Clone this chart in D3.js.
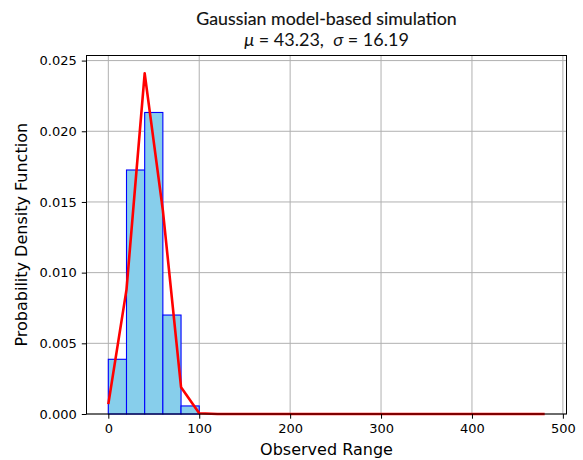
<!DOCTYPE html>
<html>
<head>
<meta charset="utf-8">
<script src="https://cdn.jsdelivr.net/npm/d3@7"></script>
<style>
  body { margin: 0; background: #fff; }
  .tick text { font-family: "DejaVu Sans", sans-serif; font-size: 13px; fill: #000; }
  .tick line { stroke: #000; }
  .grid line { stroke: #b0b0b0; stroke-width: 1; }
</style>
</head>
<body>
<script>
// histogram bins (left edges) and densities
const binEdges = [0, 20, 40, 60, 80, 100, 120, 140, 160, 180, 200, 220, 240, 260, 280,
  300, 320, 340, 360, 380, 400, 420, 440, 460, 480];
const binDensity = [0.00387, 0.01726, 0.02133, 0.00700, 0.00057, 0, 0, 0, 0, 0, 0, 0,
  0, 0, 0, 0, 0, 0, 0, 0, 0, 0, 0, 0];
// fitted gaussian, read at the bin edges
const pdfValues = [0.0007, 0.0088, 0.0241, 0.0144, 0.0019, 0.00005, 0, 0, 0, 0, 0, 0,
  0, 0, 0, 0, 0, 0, 0, 0, 0, 0, 0, 0, 0];
const xTicks = [0, 100, 200, 300, 400, 500];
const yTicks = [0, 0.005, 0.010, 0.015, 0.020, 0.025];

const width = 583, height = 460;
const margin = { top: 55.5, right: 16.5, bottom: 46, left: 86.5 };
const w = width - margin.left - margin.right;
const h = height - margin.top - margin.bottom;

const x = d3.scaleLinear().domain([-24, 504]).range([0, w]);
const y = d3.scaleLinear().domain([0, 0.02536]).range([h, 0]);

const svg = d3.select('body').append('svg')
  .attr('width', width)
  .attr('height', height);

const g = svg.append('g')
  .attr('transform', `translate(${margin.left}, ${margin.top})`);

// grid
g.append('g').attr('class', 'grid')
  .selectAll('line').data(xTicks).enter().append('line')
  .attr('x1', d => x(d)).attr('x2', d => x(d))
  .attr('y1', 0).attr('y2', h);
g.append('g').attr('class', 'grid')
  .selectAll('line').data(yTicks).enter().append('line')
  .attr('x1', 0).attr('x2', w)
  .attr('y1', d => y(d)).attr('y2', d => y(d));

// bars
g.selectAll('rect.bar')
  .data(binDensity)
  .enter().append('rect')
  .attr('class', 'bar')
  .attr('x', (d, i) => x(binEdges[i]))
  .attr('width', (d, i) => x(binEdges[i + 1]) - x(binEdges[i]))
  .attr('y', d => y(d))
  .attr('height', d => h - y(d))
  .attr('fill', '#87ceeb')
  .attr('stroke', '#0000ff')
  .attr('stroke-width', 1.1);

// pdf line
const line = d3.line()
  .x((d, i) => x(binEdges[i]))
  .y(d => y(d));

g.append('path')
  .datum(pdfValues)
  .attr('d', line)
  .attr('fill', 'none')
  .attr('stroke', '#ff0000')
  .attr('stroke-width', 2.6)
  .attr('stroke-linejoin', 'round');

// axes
const xAxis = d3.axisBottom(x).tickValues(xTicks).tickSize(4.7).tickPadding(5).tickFormat(d3.format('d'));
const yAxis = d3.axisLeft(y).tickValues(yTicks).tickSize(4.7).tickPadding(5).tickFormat(d3.format('.3f'));

g.append('g')
  .attr('transform', `translate(0, ${h})`)
  .call(xAxis)
  .call(s => s.select('.domain').remove());

g.append('g')
  .call(yAxis)
  .call(s => s.select('.domain').remove());

// frame
g.append('rect')
  .attr('width', w).attr('height', h)
  .attr('fill', 'none')
  .attr('stroke', '#000')
  .attr('stroke-width', 1);

// labels
svg.append('text')
  .attr('x', margin.left + w / 2)
  .attr('y', 455)
  .attr('text-anchor', 'middle')
  .style('font-family', '"DejaVu Sans", sans-serif')
  .style('font-size', '16px')
  .text('Observed Range');

svg.append('text')
  .attr('transform', `translate(27, ${margin.top + h / 2}) rotate(-90)`)
  .attr('text-anchor', 'middle')
  .style('font-family', '"DejaVu Sans", sans-serif')
  .style('font-size', '16px')
  .text('Probability Density Function');

svg.append('text')
  .attr('x', margin.left + w / 2)
  .attr('y', 25)
  .attr('text-anchor', 'middle')
  .style('font-family', 'Lato, sans-serif')
  .style('font-size', '17.8px')
  .style('fill', '#111')
  .style('stroke', '#111')
  .style('stroke-width', 0.15)
  .text('Gaussian model-based simulation');

const sub = svg.append('text')
  .attr('x', margin.left + w / 2)
  .attr('y', 46)
  .attr('text-anchor', 'middle')
  .style('font-family', 'Lato, sans-serif')
  .style('font-size', '18px')
  .style('fill', '#111');
sub.append('tspan').style('font-style', 'italic').text('μ');
sub.append('tspan').text(' = 43.23,\u00a0\u00a0');
sub.append('tspan').style('font-style', 'italic').text('σ');
sub.append('tspan').text(' = 16.19');
</script>
</body>
</html>
